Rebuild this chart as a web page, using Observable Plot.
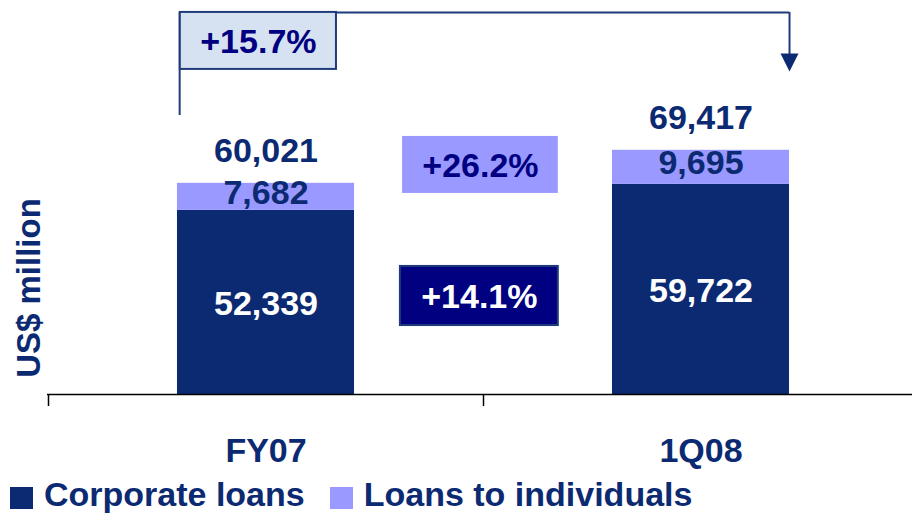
<!DOCTYPE html>
<html><head><meta charset="utf-8">
<script src="https://cdn.jsdelivr.net/npm/d3@7"></script>
<script src="https://cdn.jsdelivr.net/npm/@observablehq/plot@0.6"></script>
<style>
html,body{margin:0;padding:0;background:#fff;}
#chart{width:912px;height:513px;position:relative;overflow:hidden;font-family:"Liberation Sans",Arial,sans-serif;font-weight:bold;}
#chart svg{display:block;}
.legend{display:flex;align-items:center;height:38px;box-sizing:border-box;padding-left:10px;font-size:34px;color:#0c2a72;}
.legend span{line-height:34px;display:block;}
.sw{width:23px;height:22px;margin-right:11px;margin-top:8px;}
.item{display:flex;align-items:center;margin-right:25px;height:38px;}
</style></head><body><div id="chart"></div>
<script>
// ---- data ----
const categories = ["FY07", "1Q08"];
const seriesNames = ["Corporate loans", "Loans to individuals"];
const corporate = [52339, 59722];
const individuals = [7682, 9695];
const totals = [60021, 69417];
const growthLabels = ["+15.7%", "+26.2%", "+14.1%"];
const colors = ["#0c2a72", "#9999ff"];

// ---- layout helpers (category units on a linear x scale) ----
const pos = i => i + 0.5;
const half = 0.2035;
const fmt = d3.format(",");
const textColor = "#0c2a72";
const lineColor = "#1f3b7a";

const rows = categories.flatMap((c, i) => [
  {cat: c, i, series: seriesNames[0], y1: 0, y2: corporate[i]},
  {cat: c, i, series: seriesNames[1], y1: corporate[i], y2: corporate[i] + individuals[i]}
]);

// annotation placements (data units)
const boxes = [
  {label: growthLabels[0], x1: 0.303, x2: 0.662, y1: 92400, y2: 108600, fill: "#d6e2f2", stroke: lineColor, color: "#000080"},
  {label: growthLabels[1], x1: 0.814, x2: 1.172, y1: 57150, y2: 73350, fill: "#9999ff", stroke: "none", color: "#000080"},
  {label: growthLabels[2], x1: 0.809, x2: 1.172, y1: 19600, y2: 36400, fill: "#000080", stroke: lineColor, color: "#ffffff"}
];
const bx1 = pos(0) - half + 0.005, bx2 = pos(1) + half;
const bracketY = 108600, bracketLeftBottom = 79300, arrowY = 94400;
const tickLen = 3411;

const downTriangle = {
  draw(ctx, size) {
    const k = Math.sqrt(size / Math.PI);
    ctx.moveTo(-k, -k); ctx.lineTo(k, -k); ctx.lineTo(0, k); ctx.closePath();
  }
};

const marks = [
  Plot.rectY(rows, {x1: d => pos(d.i) - half, x2: d => pos(d.i) + half, y1: "y1", y2: "y2", fill: "series"}),
  Plot.ruleY([0], {stroke: "#000", strokeWidth: 1.5}),
  Plot.ruleX([0, 1, 2], {x: d => d, y1: 0, y2: -tickLen, stroke: "#000", strokeWidth: 1.5}),
  // bracket
  Plot.ruleX([bx1], {x: d => d, y1: bracketLeftBottom, y2: bracketY, stroke: lineColor, strokeWidth: 2}),
  Plot.ruleY([bracketY], {y: d => d, x1: () => bx1, x2: () => bx2, stroke: lineColor, strokeWidth: 2}),
  Plot.ruleX([bx2], {x: d => d, y1: arrowY, y2: bracketY, stroke: lineColor, strokeWidth: 2}),
  Plot.dot([bx2], {x: d => d, y: () => arrowY, symbol: downTriangle, r: 9, fill: textColor, stroke: "none"}),
  // boxes
  ...boxes.map(b => Plot.rect([b], {x1: "x1", x2: "x2", y1: "y1", y2: "y2", fill: b.fill, stroke: b.stroke, strokeWidth: 2})),
  ...boxes.map(b => Plot.text([b], {x: d => (d.x1 + d.x2) / 2, y: d => (d.y1 + d.y2) / 2, text: "label", fill: b.color, fontSize: 34, fontWeight: "bold", lineAnchor: "middle", dy: 1})),
  // value labels
  Plot.text(categories, {x: (d, i) => pos(i), y: (d, i) => totals[i], text: (d, i) => fmt(totals[i]), lineAnchor: "bottom", dy: -21, fill: textColor, fontSize: 34, fontWeight: "bold"}),
  Plot.text(categories, {x: (d, i) => pos(i), y: (d, i) => corporate[i] + individuals[i] / 2, text: (d, i) => fmt(individuals[i]), lineAnchor: "bottom", dy: 7, fill: textColor, fontSize: 34, fontWeight: "bold"}),
  Plot.text(categories, {x: (d, i) => pos(i), y: (d, i) => corporate[i] / 2, text: (d, i) => fmt(corporate[i]), lineAnchor: "bottom", dy: 13, fill: "#fff", fontSize: 34, fontWeight: "bold"}),
  // y label
  Plot.text(["US$ million"], {frameAnchor: "left", text: d => d, rotate: -90, dx: -8, dy: 87, lineAnchor: "bottom", textAnchor: "middle", fill: textColor, fontSize: 33, fontWeight: "bold"})
];

const chart = Plot.plot({
  width: 912, height: 475,
  marginLeft: 47, marginRight: 0, marginTop: 7, marginBottom: 81,
  style: {fontFamily: "'Liberation Sans', Arial, sans-serif", fontWeight: "bold", fontSize: "34px", color: textColor, background: "#fff", overflow: "visible"},
  x: {domain: [0, 2], range: [48, 918], ticks: [0.5, 1.5], tickFormat: d => categories[Math.floor(d)], tickSize: 0, tickPadding: 43, label: null},
  y: {domain: [0, 110000], axis: null},
  color: {domain: seriesNames, range: colors},
  marks
});

const root = document.getElementById("chart");
root.appendChild(chart);
const legend = document.createElement("div");
legend.className = "legend";
seriesNames.forEach((s, k) => {
  const it = document.createElement("div"); it.className = "item";
  const sw = document.createElement("div"); sw.className = "sw"; sw.style.background = colors[k];
  const t = document.createElement("span"); t.textContent = s;
  it.appendChild(sw); it.appendChild(t); legend.appendChild(it);
});
root.appendChild(legend);
</script></body></html>
